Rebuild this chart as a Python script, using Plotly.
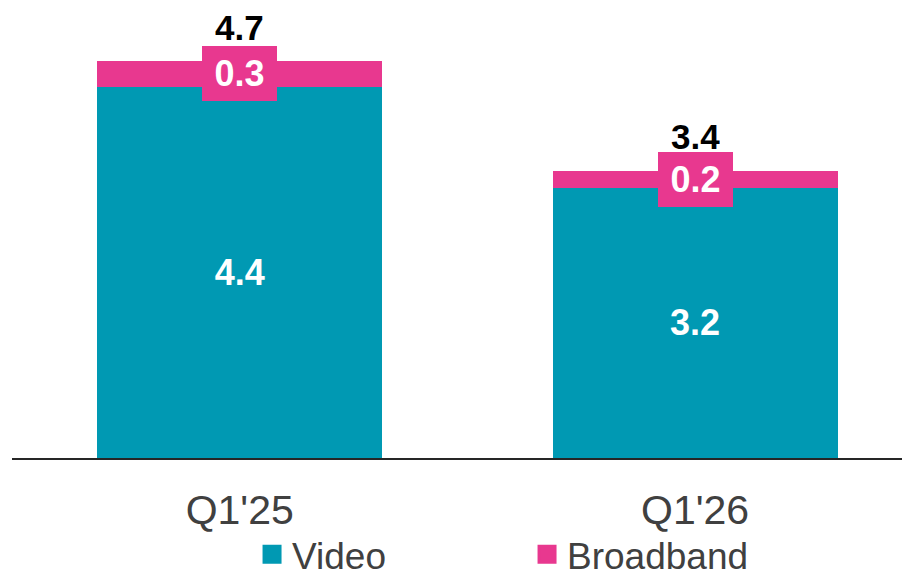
import plotly.graph_objects as go

categories = ["Q1'25", "Q1'26"]
video = [4.4, 3.2]
broadband = [0.3, 0.2]
totals = [4.7, 3.4]

TEAL = "#0099B3"
PINK = "#E8388F"
FONT = "Liberation Sans, Arial, Helvetica, sans-serif"

fig = go.Figure()
fig.add_trace(go.Bar(
    x=categories, y=video, name="Video", marker=dict(color=TEAL, line=dict(width=0)),
    text=[f"{v:.1f}" for v in video], textposition="inside", insidetextanchor="middle",
    textfont=dict(color="white", size=36, family=FONT, weight="bold"),
    width=0.626, showlegend=False, hoverinfo="skip",
))
fig.add_trace(go.Bar(
    x=categories, y=broadband, name="Broadband", marker=dict(color=PINK, line=dict(width=0)),
    textposition="none", width=0.626, showlegend=False, hoverinfo="skip",
))
# legend entries
fig.add_trace(go.Scatter(x=[None], y=[None], mode="markers", name="Video",
                         marker=dict(symbol="square", size=16, color=TEAL, line=dict(color=TEAL, width=3))))
fig.add_trace(go.Scatter(x=[None], y=[None], mode="markers", name="Broadband",
                         marker=dict(symbol="square", size=16, color=PINK, line=dict(color=PINK, width=3))))

annotations = []
for c, v, b, t in zip(categories, video, broadband, totals):
    annotations.append(dict(
        x=c, y=v + b / 2, xref="x", yref="y", text=f"{b:.1f}", showarrow=False,
        bgcolor=PINK, width=73, height=53, borderpad=0, borderwidth=1, bordercolor=PINK,
        font=dict(color="white", size=36, family=FONT, weight="bold"),
        align="center", valign="middle", yanchor="middle",
    ))
    annotations.append(dict(
        x=c, y=t, xref="x", yref="y", text=f"{t:.1f}", showarrow=False,
        yshift=34, yanchor="middle", height=37, valign="middle",
        font=dict(color="black", size=35, family=FONT, weight="bold"),
    ))

fig.update_layout(
    barmode="stack",
    width=902, height=570,
    margin=dict(l=4, r=0, t=0, b=119.5, autoexpand=False),
    paper_bgcolor="white", plot_bgcolor="white",
    font=dict(family=FONT, color="#404040"),
    xaxis=dict(range=[-0.5, 1.472], showline=True, linecolor="#262626", linewidth=2,
               showgrid=False, zeroline=False, ticks="", ticklabelstandoff=15, automargin=False,
               tickfont=dict(size=41, color="#404040", family=FONT), fixedrange=True),
    yaxis=dict(range=[0, 5.33], visible=False, showgrid=False, zeroline=False, fixedrange=True,
               automargin=False),
    legend=dict(orientation="h", traceorder="normal", x=0.2673, xanchor="left",
                y=-0.146, yanchor="top",
                entrywidth=230, entrywidthmode="pixels",
                font=dict(size=37, color="#404040", family=FONT),
                itemclick=False, itemdoubleclick=False, bgcolor="rgba(0,0,0,0)"),
    annotations=annotations,
    showlegend=True,
)

fig.write_html("out.html")
